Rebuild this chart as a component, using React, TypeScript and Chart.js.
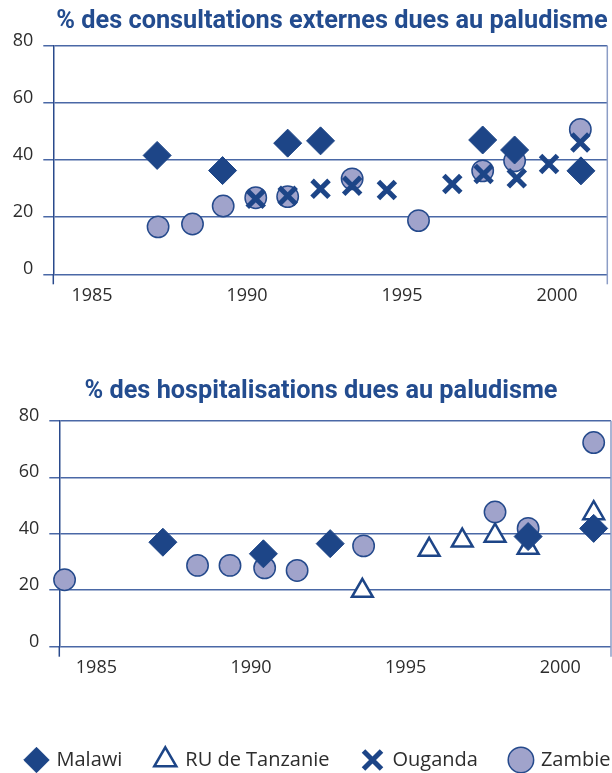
import React, { useEffect, useRef } from 'react';
import { Chart, registerables } from 'chart.js';

Chart.register(...registerables);

// ---------- data ----------
const SERIES_NAMES = ['Malawi', 'RU de Tanzanie', 'Ouganda', 'Zambie'];
const X_TICKS = [1985, 1990, 1995, 2000];
const Y_TICKS = [0, 20, 40, 60, 80];

// % des consultations externes dues au paludisme
const OPD_MALAWI_YEARS = [1987.1, 1989.21, 1991.31, 1992.37, 1997.6, 1998.63, 2000.77];
const OPD_MALAWI = [41.6, 36.3, 45.9, 46.7, 47.0, 43.5, 36.2];
const OPD_TANZANIA_YEARS: number[] = [];
const OPD_TANZANIA: number[] = [];
const OPD_UGANDA_YEARS = [1990.28, 1991.31, 1992.37, 1993.39, 1994.51, 1996.62, 1997.63, 1998.7, 1999.74, 2000.75];
const OPD_UGANDA = [26.4, 27.5, 29.9, 31.0, 29.5, 31.6, 35.1, 33.6, 38.6, 46.1];
const OPD_ZAMBIA_YEARS = [1987.13, 1988.24, 1989.23, 1990.28, 1991.31, 1993.39, 1995.53, 1997.6, 1998.63, 2000.75];
const OPD_ZAMBIA = [16.6, 17.6, 23.9, 26.8, 27.2, 33.4, 18.8, 36.2, 39.7, 50.7];

// % des hospitalisations dues au paludisme
const HOSP_MALAWI_YEARS = [1987.15, 1990.4, 1992.56, 1998.96, 2001.08];
const HOSP_MALAWI = [37.0, 32.9, 36.5, 39.0, 41.9];
const HOSP_TANZANIA_YEARS = [1993.6, 1995.76, 1996.83, 1997.89, 1998.96, 2001.08];
const HOSP_TANZANIA = [19.8, 34.3, 37.6, 39.3, 35.0, 47.3];
const HOSP_UGANDA_YEARS: number[] = [];
const HOSP_UGANDA: number[] = [];
const HOSP_ZAMBIA_YEARS = [1983.97, 1988.27, 1989.32, 1990.44, 1991.49, 1993.64, 1997.89, 1998.96, 2001.08];
const HOSP_ZAMBIA = [23.7, 28.8, 28.8, 27.9, 27.0, 35.7, 47.7, 41.9, 72.3];

const TITLE_OPD = '% des consultations externes dues au paludisme';
const TITLE_HOSP = '% des hospitalisations dues au paludisme';

// ---------- styles ----------
const DARK = '#1D4587';
const TITLE_BLUE = '#234C8F';
const ZAMBIA_FILL = '#A0A3CB';
const GRID = '#4A68A6';
const AXIS = '#2A4A8C';
const RIGHT_BORDER = '#8C9DC6';
const TEXT = '#2D2D2D';
const FONT = "'Open Sans', 'Noto Sans', sans-serif";
const TITLE_FONT = "Roboto, 'Open Sans', sans-serif";

const pts = (xs: number[], ys: number[]) => xs.map((x, i) => ({ x, y: ys[i] }));

function buildDatasets(m: any[], t: any[], u: any[], z: any[]) {
  return [
    {
      label: SERIES_NAMES[0], data: m, pointStyle: 'rectRot', pointRadius: 14,
      backgroundColor: DARK, borderColor: DARK, borderWidth: 1, clip: false,
    },
    {
      label: SERIES_NAMES[1], data: t, pointStyle: 'triangle', pointRadius: 12,
      backgroundColor: '#FFFFFF', borderColor: DARK, borderWidth: 2.5, clip: false,
    },
    {
      label: SERIES_NAMES[2], data: u, pointStyle: 'crossRot', pointRadius: 12,
      backgroundColor: DARK, borderColor: DARK, borderWidth: 5, clip: false,
    },
    {
      label: SERIES_NAMES[3], data: z, pointStyle: 'circle', pointRadius: 10.7,
      backgroundColor: ZAMBIA_FILL, borderColor: '#254A8C', borderWidth: 1.5, clip: false,
    },
  ];
}

const framePlugin = {
  id: 'frame',
  beforeDatasetsDraw(chart: any) {
    const { ctx, chartArea: a } = chart;
    ctx.save();
    ctx.lineWidth = 1.5;
    ctx.strokeStyle = AXIS;
    ctx.beginPath();
    ctx.moveTo(a.left, a.bottom);
    ctx.lineTo(a.left, a.bottom + 10);
    ctx.stroke();
    ctx.strokeStyle = RIGHT_BORDER;
    ctx.beginPath();
    ctx.moveTo(a.right, a.top);
    ctx.lineTo(a.right, a.bottom + 10);
    ctx.stroke();
    ctx.restore();
  },
};

type PanelProps = {
  datasets: any[];
  left: number;
  top: number;
  width: number;
  height: number;
  xMin: number;
  xMax: number;
  pad: { top: number; left: number; right: number; bottom: number };
  yWidth: number;
  y2Width: number;
  xHeight: number;
  xPad: number;
  legend: boolean;
};

function Panel(p: PanelProps) {
  const ref = useRef<HTMLCanvasElement | null>(null);
  useEffect(() => {
    if (!ref.current) return;
    const scales: any = {
      x: {
        type: 'linear',
        min: p.xMin,
        max: p.xMax,
        grid: { display: false },
        border: { display: false },
        ticks: {
          padding: p.xPad,
          color: TEXT,
          font: { family: FONT, size: 18 },
          callback: (v: any) => String(v),
        },
        afterBuildTicks: (s: any) => {
          s.ticks = X_TICKS.map((v) => ({ value: v }));
        },
        afterFit: (s: any) => {
          s.height = p.xHeight;
        },
      },
      y: {
        min: 0,
        max: 80,
        grid: { color: GRID, lineWidth: 1.5, tickLength: 10, drawTicks: true },
        border: { display: true, color: AXIS, width: 1.5 },
        ticks: {
          padding: 10,
          labelOffset: -5,
          color: TEXT,
          font: { family: FONT, size: 18 },
          callback: (v: any) => String(v),
        },
        afterBuildTicks: (s: any) => {
          s.ticks = Y_TICKS.map((v) => ({ value: v }));
        },
        afterFit: (s: any) => {
          s.width = p.yWidth;
        },
      },
    };
    if (p.y2Width > 0) {
      scales.y2 = {
        position: 'right',
        min: 0,
        max: 80,
        grid: { display: false },
        border: { display: false },
        ticks: { display: false },
        afterFit: (s: any) => {
          s.width = p.y2Width;
        },
      };
    }
    const chart = new Chart(ref.current, {
      type: 'scatter',
      data: { datasets: p.datasets },
      plugins: [framePlugin],
      options: {
        animation: false,
        responsive: false,
        events: [],
        layout: { autoPadding: false, padding: p.pad },
        scales,
        plugins: {
          tooltip: { enabled: false },
          title: { display: false },
          legend: {
            display: p.legend,
            position: 'bottom',
            labels: {
              usePointStyle: true,
              boxWidth: 20,
              boxHeight: 18,
              padding: 33,
              color: TEXT,
              font: { family: FONT, size: 20 },
            },
          },
        },
      } as any,
    });
    return () => chart.destroy();
  }, []);
  return (
    <canvas
      ref={ref}
      width={p.width}
      height={p.height}
      style={{ position: 'absolute', left: p.left, top: p.top, width: p.width, height: p.height, display: 'block' }}
    />
  );
}

const titleStyle = (cx: number, cy: number): React.CSSProperties => ({
  position: 'absolute',
  left: cx,
  top: cy,
  transform: 'translate(-50%, -50%)',
  whiteSpace: 'nowrap',
  fontFamily: TITLE_FONT,
  fontWeight: 'bold',
  fontSize: 25.3,
  lineHeight: 1,
  color: TITLE_BLUE,
});

export default function App() {
  const opd = buildDatasets(
    pts(OPD_MALAWI_YEARS, OPD_MALAWI),
    pts(OPD_TANZANIA_YEARS, OPD_TANZANIA),
    pts(OPD_UGANDA_YEARS, OPD_UGANDA),
    pts(OPD_ZAMBIA_YEARS, OPD_ZAMBIA)
  );
  const hosp = buildDatasets(
    pts(HOSP_MALAWI_YEARS, HOSP_MALAWI),
    pts(HOSP_TANZANIA_YEARS, HOSP_TANZANIA),
    pts(HOSP_UGANDA_YEARS, HOSP_UGANDA),
    pts(HOSP_ZAMBIA_YEARS, HOSP_ZAMBIA)
  );
  return (
    <div
      style={{
        position: 'absolute',
        left: 0,
        top: 0,
        width: 612,
        height: 773,
        overflow: 'hidden',
        background: '#FFFFFF',
      }}
    >
      <Panel
        datasets={opd}
        left={0}
        top={0}
        width={612}
        height={310}
        xMin={1983.75}
        xMax={2001.62}
        pad={{ top: 45.7, left: 0, right: 4.7, bottom: 0 }}
        yWidth={53.3}
        y2Width={0}
        xHeight={35.7}
        xPad={3}
        legend={false}
      />
      <Panel
        datasets={hosp}
        left={-20}
        top={400}
        width={700}
        height={380}
        xMin={1983.8}
        xMax={2001.64}
        pad={{ top: 17.3, left: 3, right: 26, bottom: 0 }}
        yWidth={76.3}
        y2Width={43}
        xHeight={70.3}
        xPad={2}
        legend={true}
      />
      <div style={titleStyle(332, 20)}>{TITLE_OPD}</div>
      <div style={titleStyle(321, 390)}>{TITLE_HOSP}</div>
    </div>
  );
}
